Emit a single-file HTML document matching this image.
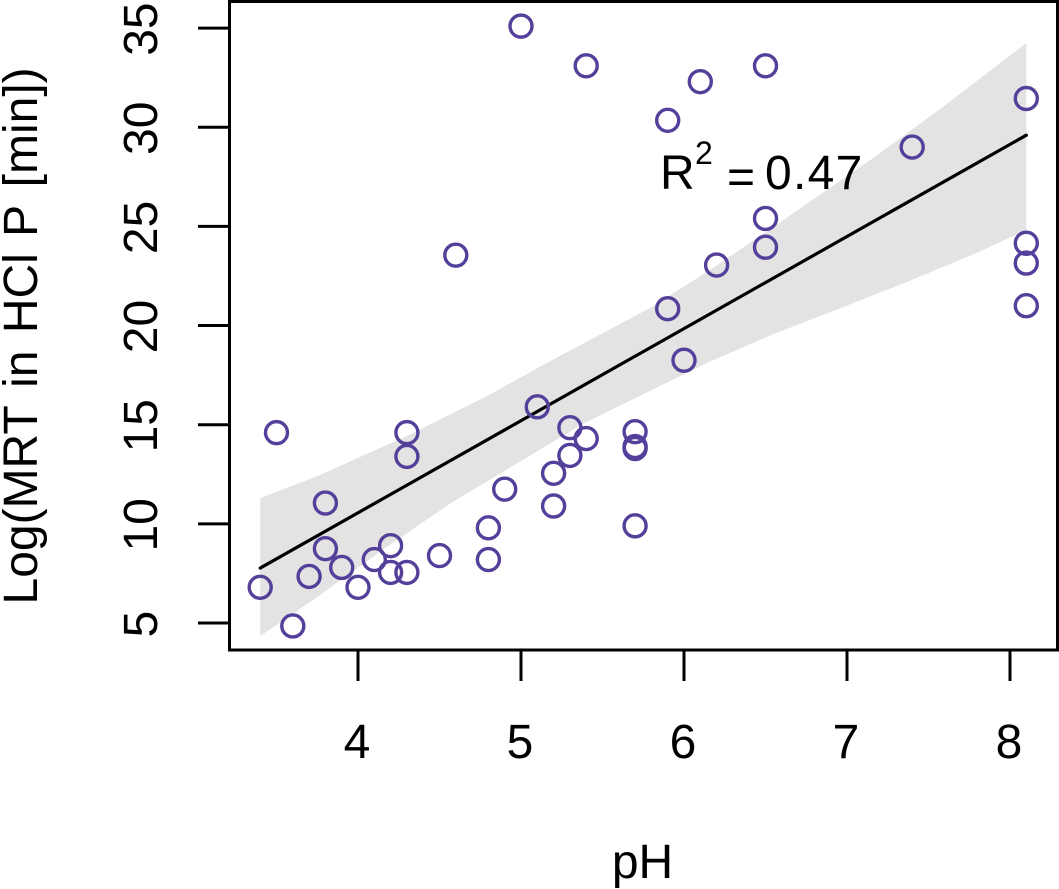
<!DOCTYPE html>
<html lang="en">
<head>
<meta charset="utf-8">
<title>MRT vs pH scatter</title>
<style>
html,body{margin:0;padding:0;background:#fff;}
svg{display:block;}
text{font-family:"Liberation Sans",Arial,sans-serif;fill:#000;}
</style>
</head>
<body>
<svg id="chart" xmlns="http://www.w3.org/2000/svg" width="1059" height="889" viewBox="0 0 1059 889">
  <g id="band-layer"></g>
  <g id="fit-layer"></g>
  <g id="point-layer"></g>
  <rect x="229.5" y="1.5" width="828" height="648.5" fill="none" stroke="#000" stroke-width="3"/>
  <g id="x-axis"></g>
  <g id="y-axis"></g>
  <text font-size="48" y="189"><tspan x="660">R</tspan><tspan x="695" y="164" font-size="32">2</tspan><tspan x="727" y="193">=</tspan><tspan x="765" y="189" letter-spacing="1.3">0.47</tspan></text>
  <text font-size="48" x="642.5" y="878" text-anchor="middle">pH</text>
  <text font-size="48" transform="translate(37,604.5) rotate(-90)">Log(MRT <tspan dx="5">in </tspan><tspan dx="4">HCl </tspan><tspan dx="3">P </tspan><tspan dx="5">[min])</tspan></text>
</svg>
<script>
const pointsPH = [3.4,3.6,3.5,3.7,3.8,3.8,3.9,4.0,4.1,4.2,4.2,4.3,4.3,4.3,4.5,4.6,4.8,4.8,4.9,5.0,5.1,5.2,5.2,5.3,5.3,5.4,5.4,5.7,5.7,5.7,5.7,5.9,5.9,6.0,6.1,6.2,6.5,6.5,6.5,7.4,8.1,8.1,8.1,8.1];
const pointsMRT = [6.8,4.85,14.6,7.35,11.05,8.75,7.8,6.8,8.2,8.9,7.55,7.55,14.6,13.4,8.4,23.55,8.2,9.8,11.75,35.1,15.9,12.55,10.9,14.85,13.45,14.3,33.1,14.65,13.9,13.8,9.9,30.35,20.85,18.25,32.3,23.05,33.1,25.4,23.95,29,31.45,24.15,23.15,21];
const fitPH = [3.4,8.1];
const fitMRT = [7.77,29.6];
const bandUpperPH = [3.4,3.75,4.30,4.77,5.18,5.79,6.14,6.55,6.76,7.16,7.58,8.1];
const bandUpperMRT = [11.30,12.41,14.43,16.35,18.21,20.88,22.70,24.97,26.18,28.45,30.97,34.25];
const bandLowerPH = [3.4,3.75,4.15,4.57,4.98,5.38,5.79,6.14,6.55,6.96,7.37,7.78,8.1];
const bandLowerMRT = [4.34,6.31,8.68,11.05,13.07,15.04,16.70,18.11,19.57,20.88,22.2,23.61,24.82];
const xTicks = [4,5,6,7,8];
const yTicks = [5,10,15,20,25,30,35];

const NS = 'http://www.w3.org/2000/svg';
function xScale(v){ return 358 + (v - 4) * 163; }
function yScale(v){ return 623 - (v - 5) * 19.83; }
function make(tag, attrs, parent){
  const el = document.createElementNS(NS, tag);
  for (const k in attrs) el.setAttribute(k, attrs[k]);
  parent.appendChild(el);
  return el;
}

const bandLayer = document.getElementById('band-layer');
const fitLayer = document.getElementById('fit-layer');
const pointLayer = document.getElementById('point-layer');
const xAxis = document.getElementById('x-axis');
const yAxis = document.getElementById('y-axis');

const bandPts = [];
bandUpperPH.forEach((v, i) => bandPts.push(xScale(v).toFixed(1) + ',' + yScale(bandUpperMRT[i]).toFixed(1)));
for (let i = bandLowerPH.length - 1; i >= 0; i--) {
  bandPts.push(xScale(bandLowerPH[i]).toFixed(1) + ',' + yScale(bandLowerMRT[i]).toFixed(1));
}
const band = make('polygon', {points: bandPts.join(' '), fill: '#e3e3e3', stroke: 'none'}, bandLayer);



const fit = make('line', {
  x1: xScale(fitPH[0]), y1: yScale(fitMRT[0]),
  x2: xScale(fitPH[1]), y2: yScale(fitMRT[1]),
  stroke: '#000', 'stroke-width': 3.2, 'stroke-linecap': 'round'
}, fitLayer);



pointsPH.forEach((v, i) => {
  const c = make('circle', {
    cx: xScale(v), cy: yScale(pointsMRT[i]), r: 11,
    fill: 'none', stroke: '#54409a', 'stroke-width': 3.4
  }, pointLayer);
  
  
});

xTicks.forEach(v => {
  const px = xScale(v);
  const t = make('line', {x1: px, x2: px, y1: 650, y2: 681, stroke: '#000', 'stroke-width': 3}, xAxis);
  
  
  const l = make('text', {x: px - 1, y: 758, 'font-size': 48, 'text-anchor': 'middle'}, xAxis);
  l.textContent = v;
  
  
});

yTicks.forEach(v => {
  const py = yScale(v);
  const t = make('line', {x1: 198, x2: 229, y1: py, y2: py, stroke: '#000', 'stroke-width': 3}, yAxis);
  
  
  const l = make('text', {'font-size': 48, 'text-anchor': 'middle', transform: 'translate(157,' + (py + 1) + ') rotate(-90)'}, yAxis);
  l.textContent = v;
  
  
});
</script>
</body>
</html>
